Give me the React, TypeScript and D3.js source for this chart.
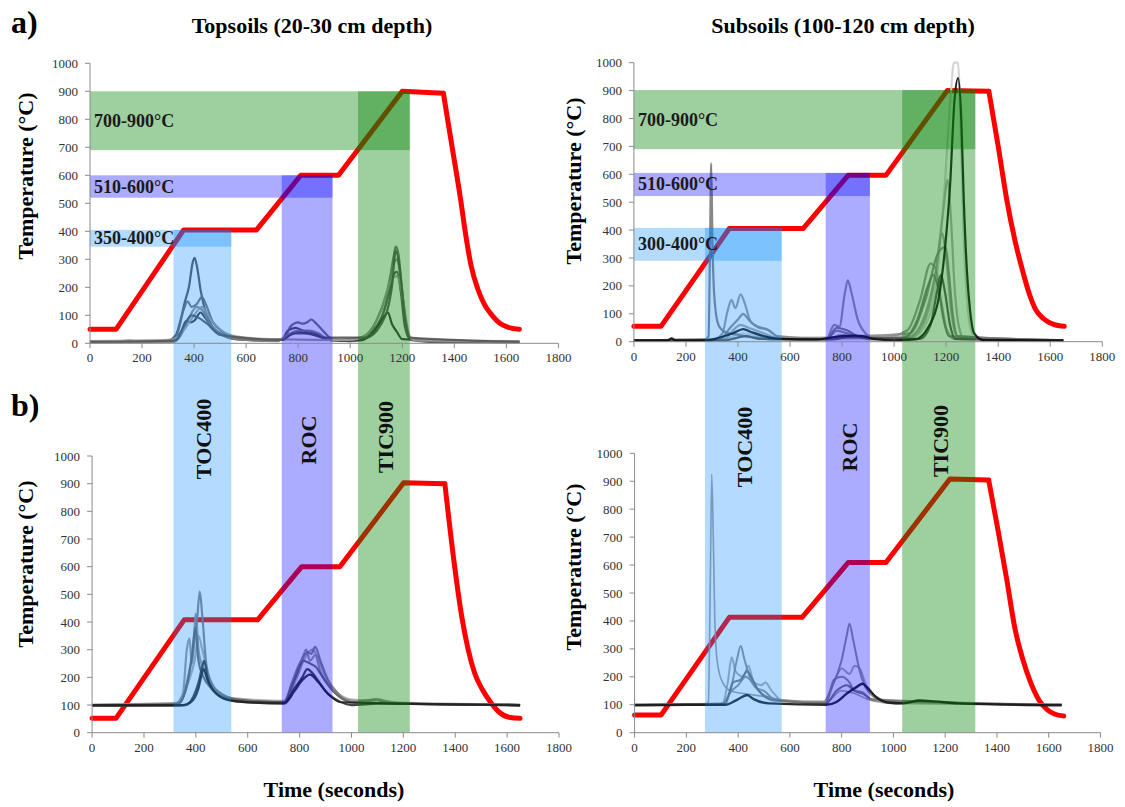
import React from 'react';
import * as d3 from 'd3';

type P = [number, number];

const xTicks = [0, 200, 400, 600, 800, 1000, 1200, 1400, 1600, 1800];
const yTicks = [0, 100, 200, 300, 400, 500, 600, 700, 800, 900, 1000];

// Temperature programme (red)
const redTL: P[] = [[0,50],[100,50],[360,405],[640,405],[810,600],[955,600],[1200,900],[1358,893],[1390,710],[1424,515],[1445,380],[1465,275],[1490,195],[1515,140],[1545,100],[1575,72],[1605,58],[1650,50]];
const redTR: P[] = [[0,55],[104,55],[367,406],[651,406],[824,597],[969,597],[1204,900],[1364,898],[1400,700],[1433,508],[1465,360],[1495,250],[1520,170],[1544,115],[1575,82],[1613,62],[1654,55]];
const redBL: P[] = [[0,52],[92,52],[355,408],[638,408],[808,600],[955,600],[1201,903],[1360,900],[1395,620],[1425,420],[1450,300],[1475,215],[1505,155],[1535,112],[1572,72],[1612,55],[1650,52]];
const redBR: P[] = [[0,63],[102,63],[366,413],[647,413],[825,609],[971,609],[1218,908],[1368,904],[1405,720],[1438,547],[1470,370],[1500,262],[1530,180],[1562,117],[1595,82],[1625,66],[1658,60]];

// Evolved-gas signals
const curvesTL: P[][] = [
  [[0,5],[100,5],[150,10],[200,5],[300,10],[330,30],[350,90],[365,150],[380,200],[395,290],[402,305],[412,270],[425,190],[445,110],[470,60],[500,35],[540,20],[600,12],[700,10],[740,15],[760,45],[790,55],[820,45],[850,40],[880,30],[920,12],[1000,8],[1040,15],[1080,40],[1120,90],[1150,180],[1170,250],[1180,255],[1195,180],[1210,60],[1230,15],[1300,5],[1650,5]],
  [[0,5],[300,8],[330,20],[360,120],[375,150],[390,130],[410,140],[430,165],[445,140],[470,80],[510,40],[560,18],[700,12],[750,20],[770,60],[800,75],[815,70],[835,75],[850,85],[870,70],[900,40],[930,15],[1000,8],[1050,20],[1100,60],[1140,150],[1165,300],[1175,345],[1185,320],[1200,180],[1215,60],[1240,10],[1650,5]],
  [[0,5],[320,8],[350,40],[370,80],[385,75],[400,80],[425,110],[440,95],[470,55],[510,30],[560,15],[720,10],[760,25],[800,40],[840,35],[880,25],[930,10],[1040,10],[1090,40],[1130,95],[1145,110],[1160,70],[1180,40],[1200,15],[1650,5]],
  [[0,3],[320,5],[350,30],[380,90],[410,130],[430,120],[460,70],[500,35],[560,15],[720,8],[760,30],[800,45],[840,45],[880,35],[920,12],[1040,20],[1100,80],[1140,180],[1165,280],[1180,300],[1195,220],[1215,80],[1235,15],[1650,3]],
  [[0,8],[300,12],[340,25],[370,60],[400,100],[430,130],[460,90],[500,50],[560,25],[700,15],[1000,12],[1060,30],[1120,120],[1160,230],[1180,240],[1200,170],[1220,40],[1250,10],[1650,8]],
  [[0,5],[330,10],[360,60],[390,100],[420,90],[450,70],[500,30],[740,12],[780,35],[820,35],[860,30],[900,20],[1060,20],[1120,70],[1160,200],[1175,330],[1190,270],[1210,90],[1230,20],[1650,5]],
];
const curvesTR: P[][] = [
  [[0,5],[280,5],[350,10],[420,30],[500,20],[600,8],[1060,10],[1120,60],[1160,200],[1190,500],[1215,850],[1230,1000],[1245,1000],[1255,800],[1265,450],[1280,150],[1300,30],[1330,5],[1650,5]],
  [[0,5],[380,10],[420,20],[500,15],[1060,15],[1120,80],[1160,250],[1190,480],[1205,580],[1218,450],[1232,200],[1250,50],[1270,10],[1650,5]],
  [[0,5],[350,10],[380,40],[410,60],[440,50],[500,30],[560,10],[760,15],[800,25],[860,15],[1060,20],[1120,100],[1160,250],[1184,388],[1200,300],[1218,120],[1240,20],[1650,5]],
  [[0,5],[300,5],[340,30],[360,110],[375,150],[390,120],[410,170],[425,140],[450,70],[490,50],[520,40],[560,15],[740,10],[770,60],[790,55],[810,170],[822,220],[835,180],[860,80],[890,30],[930,10],[1050,40],[1100,150],[1140,280],[1160,260],[1180,150],[1200,50],[1230,10],[1650,5]],
  [[0,5],[330,10],[370,50],[400,80],[420,100],[440,80],[480,50],[510,45],[550,20],[740,10],[780,40],[820,30],[860,20],[1060,30],[1120,150],[1170,320],[1198,340],[1210,250],[1225,100],[1245,20],[1650,5]],
  [[0,5],[270,5],[287,20],[292,300],[297,640],[302,350],[310,150],[325,60],[350,35],[400,25],[460,15],[550,8],[740,8],[780,50],[820,40],[860,20],[920,8],[1040,15],[1090,80],[1130,200],[1150,240],[1170,190],[1190,80],[1210,20],[1650,5]],
  [[0,5],[350,5],[400,15],[430,20],[480,10],[760,8],[820,15],[860,15],[1100,10],[1140,60],[1165,180],[1180,240],[1195,180],[1215,60],[1235,10],[1650,5]],
  [[0,5],[130,5],[145,12],[160,5],[280,5],[330,15],[380,30],[420,45],[450,35],[500,20],[560,10],[700,8],[760,15],[800,20],[850,22],[880,20],[920,10],[1000,5],[1080,8],[1130,50],[1170,150],[1200,380],[1215,560],[1232,866],[1246,945],[1258,800],[1268,500],[1280,250],[1292,110],[1308,30],[1343,6],[1650,5]],
];
const curvesBL: P[][] = [
  [[0,102],[330,108],[370,180],[395,260],[410,350],[425,300],[445,220],[480,150],[540,125],[740,115],[790,200],[820,270],[850,300],[870,270],[900,200],[940,150],[1000,120],[1060,118],[1100,122],[1150,110],[1650,102]],
  [[0,100],[320,105],[350,140],[365,300],[375,340],[385,250],[400,430],[410,300],[430,230],[460,170],[520,130],[600,115],[740,112],[770,170],[800,230],[825,300],[840,260],[860,280],[880,220],[920,160],[980,120],[1050,112],[1100,118],[1200,105],[1650,100]],
  [[0,100],[100,98],[200,100],[300,102],[340,110],[370,200],[390,300],[405,410],[415,510],[425,420],[440,250],[460,180],[500,140],[550,120],[650,112],[740,110],[770,180],[800,250],[830,290],[845,285],[860,310],[880,260],[910,190],[950,140],[1000,110],[1050,115],[1090,120],[1130,110],[1200,105],[1400,102],[1650,100]],
  [[0,100],[330,103],[360,150],[385,280],[398,380],[410,260],[430,200],[460,160],[520,125],[740,110],[780,190],[815,260],[840,250],[860,240],[890,200],[930,150],[1000,110],[1650,100]],
  [[0,98],[300,98],[360,100],[390,130],[410,180],[425,240],[432,260],[445,200],[470,150],[520,120],[600,110],[740,108],[780,160],[810,200],[830,230],[845,220],[870,190],[900,150],[950,115],[1000,100],[1100,105],[1650,98]],
  [[0,100],[350,100],[380,110],[410,160],[420,200],[430,230],[445,190],[480,140],[540,115],[740,105],[780,150],[810,190],[840,210],[870,185],[910,140],[960,110],[1650,100]],
];
const curvesBR: P[][] = [
  [[0,100],[270,100],[285,110],[292,500],[298,925],[304,700],[310,400],[320,250],[340,180],[370,150],[420,140],[500,130],[580,115],[700,108],[740,110],[800,150],[850,140],[900,120],[1000,105],[1650,100]],
  [[0,100],[340,105],[360,180],[375,270],[390,220],[420,200],[440,240],[460,180],[490,170],[505,180],[530,150],[570,115],[740,112],[770,180],[800,230],[830,210],[850,240],[870,230],[890,180],[930,130],[1000,108],[1650,102]],
  [[0,100],[330,102],[370,150],[395,260],[410,310],[425,260],[445,200],[480,150],[540,120],[640,110],[730,110],[760,160],[800,260],[820,350],[830,390],[845,330],[870,220],[900,150],[950,115],[1000,105],[1100,112],[1200,108],[1650,100]],
  [[0,100],[340,102],[375,150],[400,170],[430,200],[445,190],[470,160],[500,150],[540,120],[740,108],[770,190],[800,200],[830,180],[850,150],[880,145],[920,115],[1650,100]],
  [[0,100],[350,102],[380,180],[410,190],[435,220],[450,200],[480,150],[540,115],[740,105],[780,150],[820,170],[850,150],[880,140],[920,120],[1650,100]],
  [[0,98],[200,100],[350,100],[390,115],[420,130],[435,135],[460,120],[520,105],[740,100],[780,110],[820,140],[860,165],[880,175],[900,160],[930,130],[980,108],[1040,105],[1100,115],[1160,112],[1250,105],[1650,98]],
];

// Integration windows [start, end] in seconds, and temperature ranges [lo, hi]
const timeBandsLeft: P[] = [[321, 543], [737, 932], [1030, 1229]];
const tempBandsLeft: P[] = [[345, 405], [520, 600], [690, 900]];
const timeBandsRight: P[] = [[273, 568], [737, 907], [1031, 1312]];
const tempBandsRight: P[] = [[290, 408], [522, 605], [690, 902]];
const tempLabelsLeft = ['350-400°C', '510-600°C', '700-900°C'];
const tempLabelsRight = ['300-400°C', '510-600°C', '700-900°C'];
const fractionLabels = ['TOC400', 'ROC', 'TIC900'];

// ---- styles / geometry ----
const FONT = "'Liberation Serif', 'Times New Roman', serif";
const bandFill = ['#0088ff', '#0000ff', '#008000'];
const bandOpacity = [0.3, 0.33, 0.38];
const colorsTL = ['#4a4a4a', '#6a6a6a', '#333333', '#858585', '#9c9c9c', '#555555'];
const colorsTR = ['#cfcfcf', '#ababab', '#a0a0a0', '#939393', '#888888', '#7a7a7a', '#505050', '#0d0d0d'];
const colorsBL = ['#a8a8a8', '#969696', '#808080', '#666666', '#333333', '#222222'];
const colorsBR = ['#9a9a9a', '#a6a6a6', '#8c8c8c', '#8a8a8a', '#707070', '#151515'];
const widthsBR = [1.6, 2, 2, 2, 2, 2.4];

type Geom = { x0: number; x1: number; y0: number; y1: number };
const gTL: Geom = { x0: 90, x1: 558.4, y0: 343.3, y1: 63.3 };
const gTR: Geom = { x0: 633.9, x1: 1102.3, y0: 341.7, y1: 62.7 };
const gBL: Geom = { x0: 92.1, x1: 559, y0: 732.7, y1: 456 };
const gBR: Geom = { x0: 634.6, x1: 1100.5, y0: 732.7, y1: 453.3 };

const scales = (g: Geom) => ({
  x: d3.scaleLinear().domain([0, 1800]).range([g.x0, g.x1]),
  y: d3.scaleLinear().domain([0, 1000]).range([g.y0, g.y1]),
});

function Axes({ g }: { g: Geom }) {
  const { x, y } = scales(g);
  return (
    <g fontFamily={FONT} fontSize={13} fill="#333">
      <line x1={g.x0} x2={g.x0} y1={y(0)} y2={y(1000)} stroke="#8a8a8a" />
      <line x1={x(0)} x2={x(1800)} y1={g.y0} y2={g.y0} stroke="#8a8a8a" />
      {yTicks.map((t) => (
        <g key={'y' + t}>
          <line x1={g.x0 - 5} x2={g.x0} y1={y(t)} y2={y(t)} stroke="#8a8a8a" />
          <text x={g.x0 - 12} y={y(t)} dy="0.35em" textAnchor="end">{t}</text>
        </g>
      ))}
      {xTicks.map((t) => (
        <g key={'x' + t}>
          <line x1={x(t)} x2={x(t)} y1={g.y0} y2={g.y0 + 5} stroke="#8a8a8a" />
          <text x={x(t)} y={g.y0 + 19} textAnchor="middle">{t}</text>
        </g>
      ))}
    </g>
  );
}

function Series({ g, red, curves, colors, widths, splitAt }: { g: Geom; red: P[]; curves: P[][]; colors: string[]; widths?: number[]; splitAt: number }) {
  const { x, y } = scales(g);
  const lin = d3.line<P>().x((d) => x(d[0])).y((d) => y(d[1]));
  const smooth = d3.line<P>().x((d) => x(d[0])).y((d) => y(d[1])).curve(d3.curveMonotoneX);
  return (
    <g>
      <path d={lin(red.slice(0, splitAt + 1)) || ''} fill="none" stroke="#ff0000" strokeWidth={5} strokeLinejoin="round" strokeLinecap="round" />
      <path d={smooth(red.slice(splitAt)) || ''} fill="none" stroke="#ff0000" strokeWidth={5} strokeLinejoin="round" strokeLinecap="round" />
      {curves.map((c, i) => (
        <path key={i} d={smooth(c) || ''} fill="none" stroke={colors[i]} strokeWidth={widths ? widths[i] : 2.2} strokeOpacity={0.9} strokeLinejoin="round" />
      ))}
    </g>
  );
}

function Bands({ top, bottom, timeBands, tempBands, labels }: { top: Geom; bottom: Geom; timeBands: P[]; tempBands: P[]; labels: string[] }) {
  const { x, y } = scales(top);
  const yb = scales(bottom).y;
  return (
    <g>
      {tempBands.map((b, i) => (
        <rect key={'h' + i} x={x(0)} width={x(timeBands[i][1]) - x(0)} y={y(b[1])} height={y(b[0]) - y(b[1])} fill={bandFill[i]} fillOpacity={bandOpacity[i]} />
      ))}
      {timeBands.map((b, i) => (
        <rect key={'v' + i} x={x(b[0])} width={x(b[1]) - x(b[0])} y={y(tempBands[i][1])} height={yb(0) - y(tempBands[i][1])} fill={bandFill[i]} fillOpacity={bandOpacity[i]} />
      ))}
      {tempBands.map((b, i) => (
        <text key={'t' + i} x={x(0) + 4} y={(y(b[0]) + y(b[1])) / 2 + 6} fontFamily={FONT} fontWeight="bold" fontSize={18} fill="#1a1a1a">{labels[i]}</text>
      ))}
    </g>
  );
}

function FractionLabels({ g, timeBands, ys }: { g: Geom; timeBands: P[]; ys: number[] }) {
  const { x } = scales(g);
  return (
    <g fontFamily={FONT} fontWeight="bold" fontSize={22} fill="#111">
      {timeBands.map((b, i) => {
        const cx = (x(b[0]) + x(b[1])) / 2 + 9;
        return (
          <text key={i} transform={`translate(${cx},${ys[i]}) rotate(-90)`} textAnchor="middle">{fractionLabels[i]}</text>
        );
      })}
    </g>
  );
}

export default function App() {
  const titleStyle = { fontFamily: FONT, fontWeight: 'bold' as const };
  return (
    <svg width={1125} height={807} style={{ position: 'absolute', left: 0, top: 0, background: '#fff' }}>
      <rect width={1125} height={807} fill="#fff" />
      <Series g={gTL} red={redTL} curves={curvesTL} colors={colorsTL} splitAt={7} />
      <Series g={gTR} red={redTR} curves={curvesTR} colors={colorsTR} splitAt={7} />
      <Series g={gBL} red={redBL} curves={curvesBL} colors={colorsBL} splitAt={7} />
      <Series g={gBR} red={redBR} curves={curvesBR} colors={colorsBR} widths={widthsBR} splitAt={7} />
      <Bands top={gTL} bottom={gBL} timeBands={timeBandsLeft} tempBands={tempBandsLeft} labels={tempLabelsLeft} />
      <Bands top={gTR} bottom={gBR} timeBands={timeBandsRight} tempBands={tempBandsRight} labels={tempLabelsRight} />
      <Axes g={gTL} />
      <Axes g={gTR} />
      <Axes g={gBL} />
      <Axes g={gBR} />
      <FractionLabels g={gTL} timeBands={timeBandsLeft} ys={[439, 440, 437]} />
      <FractionLabels g={gTR} timeBands={timeBandsRight} ys={[447, 447, 441]} />

      <text x={11} y={33} fontSize={32} {...titleStyle}>a)</text>
      <text x={11} y={416} fontSize={32} {...titleStyle}>b)</text>
      <text x={312} y={33} fontSize={22} textAnchor="middle" {...titleStyle}>Topsoils (20-30 cm depth)</text>
      <text x={843} y={33} fontSize={22} textAnchor="middle" {...titleStyle}>Subsoils (100-120 cm depth)</text>
      <text transform="translate(33,176) rotate(-90)" fontSize={22} textAnchor="middle" {...titleStyle}>Temperature (°C)</text>
      <text transform="translate(581,181) rotate(-90)" fontSize={22} textAnchor="middle" {...titleStyle}>Temperature (°C)</text>
      <text transform="translate(33,564) rotate(-90)" fontSize={22} textAnchor="middle" {...titleStyle}>Temperature (°C)</text>
      <text transform="translate(581,567) rotate(-90)" fontSize={22} textAnchor="middle" {...titleStyle}>Temperature (°C)</text>
      <text x={334} y={797} fontSize={22} textAnchor="middle" {...titleStyle}>Time (seconds)</text>
      <text x={884} y={797} fontSize={22} textAnchor="middle" {...titleStyle}>Time (seconds)</text>
    </svg>
  );
}
